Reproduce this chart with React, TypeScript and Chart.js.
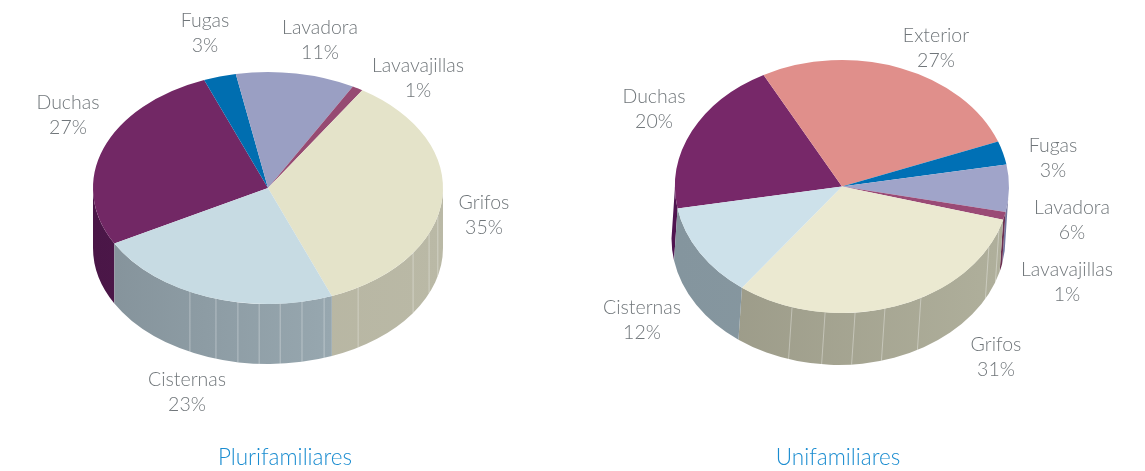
import React, { useEffect, useRef } from "react";
import { Chart, registerables } from "chart.js";

Chart.register(...registerables);

// ---- data ----
const pluriCategories = ["Duchas", "Fugas", "Lavadora", "Lavavajillas", "Grifos", "Cisternas"];
const pluriValues = [27, 3, 11, 1, 35, 23];
const uniCategories = ["Duchas", "Exterior", "Fugas", "Lavadora", "Lavavajillas", "Grifos", "Cisternas"];
const uniValues = [20, 27, 3, 6, 1, 31, 12];

// ---- styles ----
const pluriTop = ["#722865", "#006eb0", "#9a9fc3", "#964a72", "#e4e3c9", "#c7dbe3"];
const pluriWallFrom = ["#4a1647", "#004a78", "#6d7196", "#6b2f50", "#b4b29e", "#84929a"];
const pluriWallTo = ["#5a2056", "#004a78", "#6d7196", "#6b2f50", "#bab9a6", "#a0b1b9"];
const uniTop = ["#772869", "#e08f8b", "#0070b5", "#a0a4c9", "#9a4a75", "#ebe9d1", "#cde1ea"];
const uniWallFrom = ["#4f1450", "#a86a68", "#004a78", "#7276a0", "#6b2f50", "#999886", "#84959e"];
const uniWallTo = ["#5a1a58", "#a86a68", "#004a78", "#7276a0", "#6b2f50", "#b0b09c", "#8a9aa2"];

// angles (deg clockwise from top) of the thin facet lines on the side walls
const pluriSeams = [206.5, 197.3, 189.9, 182.9, 176, 168.8, 161.3, 149, 124, 113, 104];
const uniSeams = [197.4, 185.8, 175.5, 165.1, 151.8, 118.4, 110];

// label anchors, page pixels: [x, first line y]
const pluriLabelAt = [[68, 103], [205, 21], [320, 28], [418, 66], [484, 203], [187, 380]];
const uniLabelAt = [[654, 97], [936, 36], [1053, 146], [1072, 208], [1067, 270], [996, 345], [642, 308]];

type Spec = {
  title: string; categories: string[]; values: number[]; top: string[];
  wallFrom: string[]; wallTo: string[]; seams: number[]; labelAt: number[][];
  left: number; width: number; cx: number; cy: number; radius: number; tilt: number;
  depth: number; depthX: number; rotation: number;
};

const specs: Spec[] = [
  {
    title: "Plurifamiliares", categories: pluriCategories, values: pluriValues, top: pluriTop,
    wallFrom: pluriWallFrom, wallTo: pluriWallTo, seams: pluriSeams, labelAt: pluriLabelAt,
    left: 0, width: 570, cx: 268, cy: 188, radius: 175, tilt: 0.663, depth: 60, depthX: 0, rotation: 241.4,
  },
  {
    title: "Unifamiliares", categories: uniCategories, values: uniValues, top: uniTop,
    wallFrom: uniWallFrom, wallTo: uniWallTo, seams: uniSeams, labelAt: uniLabelAt,
    left: 560, width: 556, cx: 842, cy: 186.5, radius: 167, tilt: 0.757, depth: 52, depthX: -3.5, rotation: 260,
  },
];

const FONT = "Lato";
const TEXT = "#70767a";

function pie3d(s: Spec) {
  const cx = s.cx - s.left;
  return {
    id: "pie3d",
    beforeDatasetsDraw(chart: any) {
      const ctx = chart.ctx as CanvasRenderingContext2D;
      const arcs = chart.getDatasetMeta(0).data as any[];
      const R = arcs[0].outerRadius;
      const rY = R * s.tilt;
      ctx.save();
      arcs.forEach((arc, i) => {
        const grad = ctx.createLinearGradient(cx - R, 0, cx + R, 0);
        grad.addColorStop(0, s.wallFrom[i]);
        grad.addColorStop(1, s.wallTo[i]);
        for (let k = -1; k <= 2; k++) {
          const lo = Math.max(arc.startAngle, 2 * Math.PI * k);
          const hi = Math.min(arc.endAngle, 2 * Math.PI * k + Math.PI);
          if (hi <= lo) continue;
          ctx.beginPath();
          ctx.ellipse(cx, s.cy, R, rY, 0, lo, hi);
          ctx.ellipse(cx + s.depthX, s.cy + s.depth, R, rY, 0, hi, lo, true);
          ctx.closePath();
          ctx.fillStyle = grad;
          ctx.fill();
        }
      });
      ctx.strokeStyle = "rgba(255,255,255,0.35)";
      ctx.lineWidth = 1;
      s.seams.forEach((deg) => {
        const a = ((deg - 90) * Math.PI) / 180;
        const x = cx + R * Math.cos(a);
        const y = s.cy + rY * Math.sin(a);
        ctx.beginPath();
        ctx.moveTo(x, y);
        ctx.lineTo(x + s.depthX, y + s.depth);
        ctx.stroke();
      });
      ctx.restore();
      // flatten the library's own arcs into the tilted top face
      const a0 = arcs[0];
      ctx.save();
      ctx.translate(cx, s.cy);
      ctx.scale(1, s.tilt);
      ctx.translate(-a0.x, -a0.y);
    },
    afterDatasetsDraw(chart: any) {
      chart.ctx.restore();
    },
    afterDraw(chart: any) {
      const ctx = chart.ctx as CanvasRenderingContext2D;
      ctx.save();
      ctx.font = `300 19.5px ${FONT}`;
      ctx.fillStyle = TEXT;
      ctx.textAlign = "center";
      ctx.textBaseline = "middle";
      s.categories.forEach((name, i) => {
        const [x, y] = s.labelAt[i];
        ctx.fillText(name, x - s.left, y);
        ctx.fillText(`${s.values[i]}%`, x - s.left, y + 25);
      });
      ctx.restore();
    },
  };
}

function Pie({ spec }: { spec: Spec }) {
  const ref = useRef<HTMLCanvasElement>(null);
  useEffect(() => {
    const pad = (spec.width - 2 * spec.radius) / 2;
    const chart = new Chart(ref.current as HTMLCanvasElement, {
      type: "pie",
      data: {
        labels: spec.categories,
        datasets: [{ data: spec.values, backgroundColor: spec.top, borderWidth: 0, clip: false } as any],
      },
      plugins: [pie3d(spec) as any],
      options: {
        responsive: false,
        animation: false,
        rotation: spec.rotation,
        layout: { padding: { left: pad, right: pad, top: 0, bottom: 0 } },
        plugins: {
          legend: { display: false },
          tooltip: { enabled: false },
          title: {
            display: true,
            text: spec.title,
            position: "bottom",
            color: "#1a8cd0",
            font: { family: FONT, size: 22.5, weight: 300 as any },
            padding: { top: 0, bottom: 0 },
          },
        },
      } as any,
    });
    return () => chart.destroy();
  }, [spec]);
  return (
    <canvas
      ref={ref}
      width={spec.width}
      height={471}
      style={{ position: "absolute", left: spec.left, top: 0, width: spec.width, height: 471, display: "block" }}
    />
  );
}

export default function App() {
  return (
    <div style={{ position: "absolute", left: 0, top: 0, width: 1145, height: 471, background: "#fff", overflow: "hidden" }}>
      {specs.map((s) => (
        <Pie key={s.title} spec={s} />
      ))}
    </div>
  );
}
